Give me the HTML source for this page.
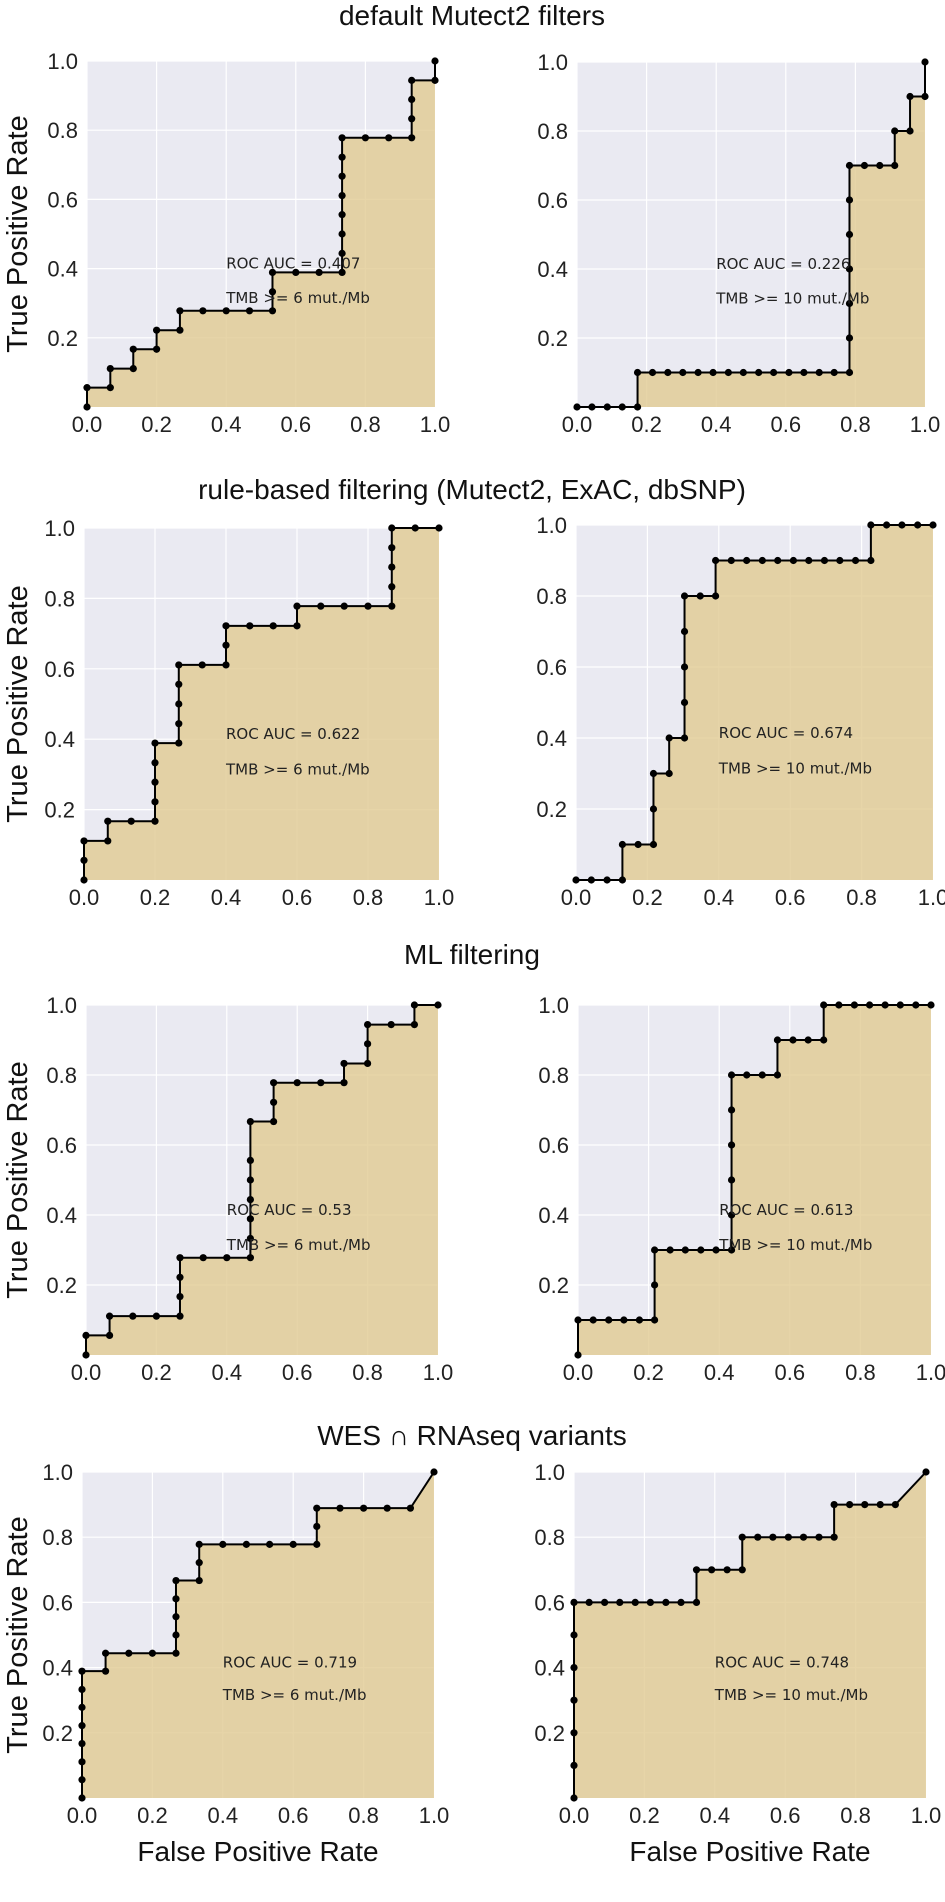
<!DOCTYPE html>
<html><head><meta charset="utf-8">
<style>
html,body{margin:0;padding:0;background:#fff;}
svg{display:block;font-family:"Liberation Sans","DejaVu Sans",sans-serif;}
</style></head>
<body>
<svg id="fig" width="945" height="1902" viewBox="0 0 945 1902" xmlns="http://www.w3.org/2000/svg">
<text x="472" y="25" font-size="28" text-anchor="middle" fill="#111">default Mutect2 filters</text>
<text x="472" y="499" font-size="28" text-anchor="middle" fill="#111">rule-based filtering (Mutect2, ExAC, dbSNP)</text>
<text x="472" y="964" font-size="28" text-anchor="middle" fill="#111">ML filtering</text>
<text x="472" y="1445" font-size="28" text-anchor="middle" fill="#111">WES ∩ RNAseq variants</text>
</svg>
<script>
// Panel 1 (default Mutect2, TMB>=6)
const fpr1a=[0,0,0.067,0.067,0.133,0.133,0.2,0.2,0.267,0.267,0.333,0.4,0.467,0.533,0.533,0.533,0.6,0.667,0.733,0.733,0.733,0.733,0.733,0.733,0.733,0.733,0.8,0.867,0.933,0.933,0.933,0.933,1,1];
const tpr1a=[0,0.056,0.056,0.111,0.111,0.167,0.167,0.222,0.222,0.278,0.278,0.278,0.278,0.278,0.333,0.389,0.389,0.389,0.389,0.444,0.5,0.556,0.611,0.667,0.722,0.778,0.778,0.778,0.778,0.833,0.889,0.944,0.944,1];
// Panel 2 (default Mutect2, TMB>=10)
const fpr1b=[0,0.043,0.087,0.13,0.174,0.174,0.217,0.261,0.304,0.348,0.391,0.435,0.478,0.522,0.565,0.609,0.652,0.696,0.739,0.783,0.783,0.783,0.783,0.783,0.783,0.783,0.826,0.87,0.913,0.913,0.957,0.957,1,1];
const tpr1b=[0,0,0,0,0,0.1,0.1,0.1,0.1,0.1,0.1,0.1,0.1,0.1,0.1,0.1,0.1,0.1,0.1,0.1,0.2,0.3,0.4,0.5,0.6,0.7,0.7,0.7,0.7,0.8,0.8,0.9,0.9,1];
// Panel 3 (rule-based, TMB>=6)
const fpr2a=[0,0,0,0.067,0.067,0.133,0.2,0.2,0.2,0.2,0.2,0.267,0.267,0.267,0.267,0.267,0.333,0.4,0.4,0.4,0.467,0.533,0.6,0.6,0.667,0.733,0.8,0.867,0.867,0.867,0.867,0.867,0.933,1];
const tpr2a=[0,0.056,0.111,0.111,0.167,0.167,0.167,0.222,0.278,0.333,0.389,0.389,0.444,0.5,0.556,0.611,0.611,0.611,0.667,0.722,0.722,0.722,0.722,0.778,0.778,0.778,0.778,0.778,0.833,0.889,0.944,1,1,1];
// Panel 4 (rule-based, TMB>=10)
const fpr2b=[0,0.043,0.087,0.13,0.13,0.174,0.217,0.217,0.217,0.261,0.261,0.304,0.304,0.304,0.304,0.304,0.348,0.391,0.391,0.435,0.478,0.522,0.565,0.609,0.652,0.696,0.739,0.783,0.826,0.826,0.87,0.913,0.957,1];
const tpr2b=[0,0,0,0,0.1,0.1,0.1,0.2,0.3,0.3,0.4,0.4,0.5,0.6,0.7,0.8,0.8,0.8,0.9,0.9,0.9,0.9,0.9,0.9,0.9,0.9,0.9,0.9,0.9,1,1,1,1,1];
// Panel 5 (ML, TMB>=6)
const fpr3a=[0,0,0.067,0.067,0.133,0.2,0.267,0.267,0.267,0.267,0.333,0.4,0.467,0.467,0.467,0.467,0.467,0.467,0.467,0.533,0.533,0.533,0.6,0.667,0.733,0.733,0.8,0.8,0.8,0.867,0.933,0.933,1];
const tpr3a=[0,0.056,0.056,0.111,0.111,0.111,0.111,0.167,0.222,0.278,0.278,0.278,0.278,0.333,0.389,0.444,0.5,0.556,0.667,0.667,0.722,0.778,0.778,0.778,0.778,0.833,0.833,0.889,0.944,0.944,0.944,1,1];
// Panel 6 (ML, TMB>=10)
const fpr3b=[0,0,0.043,0.087,0.13,0.174,0.217,0.217,0.217,0.261,0.304,0.348,0.391,0.435,0.435,0.435,0.435,0.435,0.435,0.478,0.522,0.565,0.565,0.609,0.652,0.696,0.696,0.739,0.783,0.826,0.87,0.913,0.957,1];
const tpr3b=[0,0.1,0.1,0.1,0.1,0.1,0.1,0.2,0.3,0.3,0.3,0.3,0.3,0.3,0.4,0.5,0.6,0.7,0.8,0.8,0.8,0.8,0.9,0.9,0.9,0.9,1,1,1,1,1,1,1,1];
// Panel 7 (WES ∩ RNAseq, TMB>=6)
const fpr4a=[0,0,0,0,0,0,0,0,0.067,0.067,0.133,0.2,0.267,0.267,0.267,0.267,0.267,0.333,0.333,0.333,0.4,0.467,0.533,0.6,0.667,0.667,0.667,0.733,0.8,0.867,0.933,1];
const tpr4a=[0,0.056,0.111,0.167,0.222,0.278,0.333,0.389,0.389,0.444,0.444,0.444,0.444,0.5,0.556,0.611,0.667,0.667,0.722,0.778,0.778,0.778,0.778,0.778,0.778,0.833,0.889,0.889,0.889,0.889,0.889,1];
// Panel 8 (WES ∩ RNAseq, TMB>=10)
const fpr4b=[0,0,0,0,0,0,0,0.043,0.087,0.13,0.174,0.217,0.261,0.304,0.348,0.348,0.391,0.435,0.478,0.478,0.522,0.565,0.609,0.652,0.696,0.739,0.739,0.783,0.826,0.87,0.913,1];
const tpr4b=[0,0.1,0.2,0.3,0.4,0.5,0.6,0.6,0.6,0.6,0.6,0.6,0.6,0.6,0.6,0.7,0.7,0.7,0.7,0.8,0.8,0.8,0.8,0.8,0.8,0.8,0.9,0.9,0.9,0.9,0.9,1];
const aucLabels=["ROC AUC = 0.407","ROC AUC = 0.226","ROC AUC = 0.622","ROC AUC = 0.674","ROC AUC = 0.53","ROC AUC = 0.613","ROC AUC = 0.719","ROC AUC = 0.748"];
const tmbLabels=["TMB >= 6 mut./Mb","TMB >= 10 mut./Mb"];
const xTicks=[0,0.2,0.4,0.6,0.8,1.0];
const yTicks=[0.2,0.4,0.6,0.8,1.0];

const NS="http://www.w3.org/2000/svg";
const svg=document.getElementById('fig');
function mk(tag,attrs,parent){const e=document.createElementNS(NS,tag);for(const k in attrs)e.setAttribute(k,attrs[k]);(parent||svg).appendChild(e);return e;}

const panels=[
 {fpr:fpr1a,tpr:tpr1a,x0:87,x1:435,y0:407,y1:61,left:true,xl:false,name:'default-tmb6'},
 {fpr:fpr1b,tpr:tpr1b,x0:577,x1:925,y0:407,y1:62,left:false,xl:false,name:'default-tmb10'},
 {fpr:fpr2a,tpr:tpr2a,x0:84,x1:439,y0:880,y1:528,left:true,xl:false,name:'rule-tmb6'},
 {fpr:fpr2b,tpr:tpr2b,x0:576,x1:933,y0:880,y1:525,left:false,xl:false,name:'rule-tmb10'},
 {fpr:fpr3a,tpr:tpr3a,x0:86,x1:438,y0:1355,y1:1005,left:true,xl:false,name:'ml-tmb6'},
 {fpr:fpr3b,tpr:tpr3b,x0:578,x1:931,y0:1355,y1:1005,left:false,xl:false,name:'ml-tmb10'},
 {fpr:fpr4a,tpr:tpr4a,x0:82,x1:434,y0:1798,y1:1472,left:true,xl:true,name:'wes-tmb6'},
 {fpr:fpr4b,tpr:tpr4b,x0:574,x1:926,y0:1798,y1:1472,left:false,xl:true,name:'wes-tmb10'}
];

panels.forEach((p,i)=>{
  const sx=v=>p.x0+v*(p.x1-p.x0);
  const sy=v=>p.y0+v*(p.y1-p.y0);
  const g=mk('g',{});
  
  
  const bg=mk('rect',{x:p.x0,y:p.y1,width:p.x1-p.x0,height:p.y0-p.y1,fill:'#eaeaf2'},g);
  
  
  xTicks.forEach(t=>{
    const l=mk('line',{x1:sx(t),x2:sx(t),y1:p.y0,y2:p.y1,stroke:'#fff','stroke-width':1.2},g);
    
    
    const tx=mk('text',{x:sx(t),y:p.y0+25,'font-size':22,'text-anchor':'middle',fill:'#222'},g);
    tx.textContent=t.toFixed(1);
    
    
  });
  yTicks.forEach(t=>{
    const l=mk('line',{x1:p.x0,x2:p.x1,y1:sy(t),y2:sy(t),stroke:'#fff','stroke-width':1.2},g);
    
    
    const tx=mk('text',{x:p.x0-9,y:sy(t)+8,'font-size':22,'text-anchor':'end',fill:'#222'},g);
    tx.textContent=t.toFixed(1);
    
    
  });
  let d='M'+sx(p.fpr[0])+','+sy(0);
  p.fpr.forEach((v,k)=>{d+=' L'+sx(v)+','+sy(p.tpr[k]);});
  d+=' L'+sx(p.fpr[p.fpr.length-1])+','+sy(0)+' Z';
  const area=mk('path',{d:d,fill:'#e0c990','fill-opacity':0.78},g);
  
  
  const pts=p.fpr.map((v,k)=>sx(v)+','+sy(p.tpr[k])).join(' ');
  const line=mk('polyline',{points:pts,fill:'none',stroke:'#000','stroke-width':2},g);
  
  
  p.fpr.forEach((v,k)=>{
    const c=mk('circle',{cx:sx(v),cy:sy(p.tpr[k]),r:3.6,fill:'#000'},g);
    
    
  });
  const a1=mk('text',{x:sx(0.4),y:sy(0.4),'font-size':15,'font-family':'"DejaVu Sans",sans-serif',fill:'#222'},g);
  a1.textContent=aucLabels[i];
  
  
  const a2=mk('text',{x:sx(0.4),y:sy(0.3),'font-size':15,'font-family':'"DejaVu Sans",sans-serif',fill:'#222'},g);
  a2.textContent=tmbLabels[i%2];
  
  
  if(p.left){
    const cy=(p.y0+p.y1)/2;
    const yl=mk('text',{x:0,y:0,'font-size':29,'text-anchor':'middle',fill:'#111',transform:'translate(27,'+cy+') rotate(-90)'},g);
    yl.textContent='True Positive Rate';
    
    
  }
  if(p.xl){
    const xl=mk('text',{x:(p.x0+p.x1)/2,y:1861,'font-size':28,'text-anchor':'middle',fill:'#111'},g);
    xl.textContent='False Positive Rate';
    
    
  }
});
</script>
</body></html>
